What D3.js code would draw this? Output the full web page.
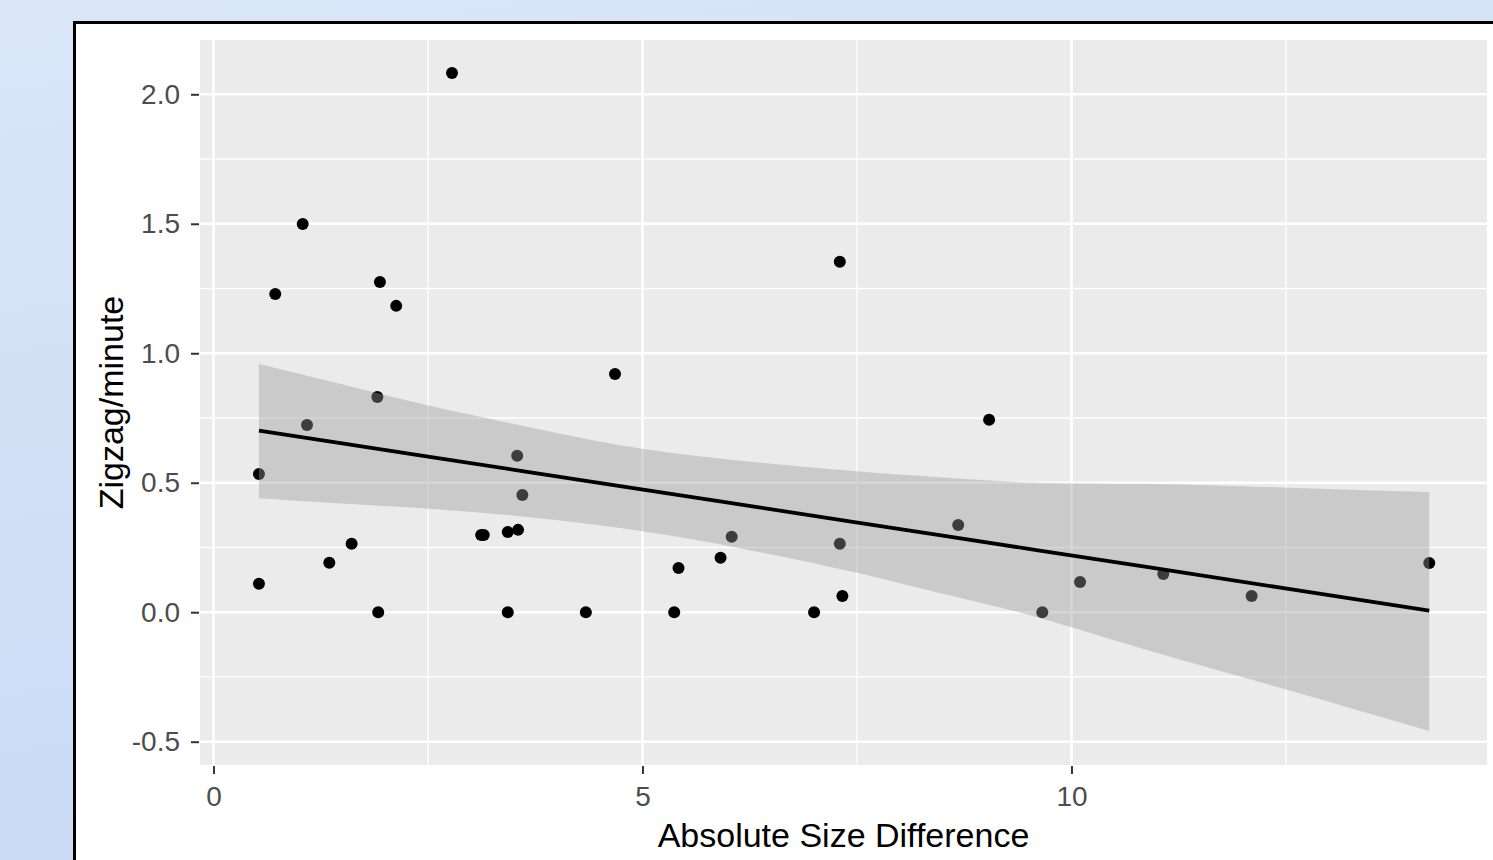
<!DOCTYPE html>
<html>
<head>
<meta charset="utf-8">
<script src="https://d3js.org/d3.v7.min.js"></script>
<style>
    body { margin: 0; padding: 0; overflow: hidden; }
    svg { display: block; }
</style>
</head>
<body>
<div id="svg-container"></div>
<script>
var w = 1493;
var h = 860;

// points
var sizeDiff = [2.78, 1.04, 0.72, 1.94, 2.13, 7.30, 4.68, 9.04, 1.91, 1.09,
    0.53, 3.54, 3.60, 8.68, 3.12, 3.15, 3.43, 3.55, 1.61, 1.35,
    0.53, 1.92, 3.43, 4.34, 6.04, 5.42, 5.91, 5.37, 7.00, 7.33,
    7.30, 10.10, 9.66, 12.10, 14.17, 11.07];
var zigzag = [2.082, 1.499, 1.229, 1.275, 1.183, 1.353, 0.920, 0.743, 0.831, 0.723,
    0.534, 0.604, 0.453, 0.337, 0.298, 0.298, 0.310, 0.318, 0.264, 0.191,
    0.110, 0.0, 0.0, 0.0, 0.291, 0.171, 0.210, 0.0, 0.0, 0.063,
    0.264, 0.117, 0.0, 0.063, 0.190, 0.148];

// lm smooth + confidence band, read at a few x positions
var smoothX = [0.53, 1.5, 2.52, 3.6, 4.74, 6.0, 7.45, 8.5, 9.63, 10.95, 12.51, 14.17];
var smoothFit = [0.701, 0.652, 0.600, 0.545, 0.487, 0.423, 0.349, 0.296, 0.238, 0.171, 0.091, 0.006];
var smoothLower = [0.440, 0.420, 0.400, 0.370, 0.325, 0.256, 0.156, 0.071, -0.022, -0.153, -0.299, -0.459];
var smoothUpper = [0.959, 0.880, 0.797, 0.720, 0.645, 0.590, 0.545, 0.520, 0.500, 0.495, 0.481, 0.464];

var xTicks = [0, 5, 10];
var xMinor = [2.5, 7.5, 12.5];
var yTicks = [-0.5, 0, 0.5, 1, 1.5, 2];
var yTickLabels = ["-0.5", "0.0", "0.5", "1.0", "1.5", "2.0"];
var yMinor = [-0.25, 0.25, 0.75, 1.25, 1.75];

var xTitle = "Absolute Size Difference";
var yTitle = "Zigzag/minute";

var panel = { left: 200, right: 1487, top: 40, bottom: 765 };

var svg = d3.select("#svg-container")
    .append("svg")
    .attr("width", w)
    .attr("height", h);

// slide background
var defs = svg.append("defs");
var grad = defs.append("linearGradient")
    .attr("id", "bg")
    .attr("x1", 0).attr("y1", 0)
    .attr("x2", 0.3).attr("y2", 1);
grad.append("stop").attr("offset", "0%").attr("stop-color", "#dae6f8");
grad.append("stop").attr("offset", "100%").attr("stop-color", "#c9daf4");

svg.append("rect")
    .attr("width", w)
    .attr("height", h)
    .attr("fill", "url(#bg)");

// white picture frame
svg.append("rect")
    .attr("x", 74.5)
    .attr("y", 22.5)
    .attr("width", w + 20)
    .attr("height", h + 20)
    .attr("fill", "#ffffff")
    .attr("stroke", "#000000")
    .attr("stroke-width", 3);

var xScale = d3.scaleLinear()
    .domain([-0.157, 14.843])
    .range([panel.left, panel.right]);

var yScale = d3.scaleLinear()
    .domain([-0.590, 2.2097])
    .range([panel.bottom, panel.top]);

// grey panel
svg.append("rect")
    .attr("x", panel.left)
    .attr("y", panel.top)
    .attr("width", panel.right - panel.left)
    .attr("height", panel.bottom - panel.top)
    .attr("fill", "#ebebeb");

var grid = svg.append("g").attr("class", "grid");

grid.selectAll(".ymin")
    .data(yMinor)
    .enter().append("line")
    .attr("x1", panel.left).attr("x2", panel.right)
    .attr("y1", function(d) { return yScale(d); })
    .attr("y2", function(d) { return yScale(d); })
    .attr("stroke", "#ffffff")
    .attr("stroke-width", 1.3);

grid.selectAll(".xmin")
    .data(xMinor)
    .enter().append("line")
    .attr("y1", panel.top).attr("y2", panel.bottom)
    .attr("x1", function(d) { return xScale(d); })
    .attr("x2", function(d) { return xScale(d); })
    .attr("stroke", "#ffffff")
    .attr("stroke-width", 1.3);

grid.selectAll(".ymaj")
    .data(yTicks)
    .enter().append("line")
    .attr("x1", panel.left).attr("x2", panel.right)
    .attr("y1", function(d) { return yScale(d); })
    .attr("y2", function(d) { return yScale(d); })
    .attr("stroke", "#ffffff")
    .attr("stroke-width", 2.6);

grid.selectAll(".xmaj")
    .data(xTicks)
    .enter().append("line")
    .attr("y1", panel.top).attr("y2", panel.bottom)
    .attr("x1", function(d) { return xScale(d); })
    .attr("x2", function(d) { return xScale(d); })
    .attr("stroke", "#ffffff")
    .attr("stroke-width", 2.6);

// points first, the band goes over them like ggplot does
svg.append("g")
    .attr("class", "points")
    .selectAll("circle")
    .data(sizeDiff)
    .enter().append("circle")
    .attr("cx", function(d) { return xScale(d); })
    .attr("cy", function(d, i) { return yScale(zigzag[i]); })
    .attr("r", 6)
    .attr("fill", "#000000");

var band = smoothX.map(function(d, i) {
    return { x: d, lo: smoothLower[i], hi: smoothUpper[i], fit: smoothFit[i] };
});

var area = d3.area()
    .x(function(d) { return xScale(d.x); })
    .y0(function(d) { return yScale(d.lo); })
    .y1(function(d) { return yScale(d.hi); })
    .curve(d3.curveNatural);

svg.append("path")
    .datum(band)
    .attr("d", area)
    .attr("fill", "#999999")
    .attr("fill-opacity", 0.4);

var line = d3.line()
    .x(function(d) { return xScale(d.x); })
    .y(function(d) { return yScale(d.fit); });

svg.append("path")
    .datum(band)
    .attr("d", line)
    .attr("fill", "none")
    .attr("stroke", "#000000")
    .attr("stroke-width", 3.8);

// axes
var xAxisGen = d3.axisBottom(xScale)
    .tickValues(xTicks)
    .tickFormat(d3.format("d"))
    .tickSize(8)
    .tickPadding(12);

var yAxisGen = d3.axisLeft(yScale)
    .tickValues(yTicks)
    .tickFormat(function(d, i) { return yTickLabels[i]; })
    .tickSize(8)
    .tickPadding(11);

var xAxis = svg.append("g")
    .attr("class", "x-axis")
    .attr("transform", "translate(0," + (panel.bottom + 1) + ")")
    .call(xAxisGen);

var yAxis = svg.append("g")
    .attr("class", "y-axis")
    .attr("transform", "translate(" + (panel.left - 1) + ",0)")
    .call(yAxisGen);

[xAxis, yAxis].forEach(function(ax) {
    ax.select(".domain").remove();
    ax.selectAll(".tick line")
        .attr("stroke", "#333333")
        .attr("stroke-width", 2);
    ax.selectAll(".tick text")
        .attr("fill", "#4d4d4d")
        .style("font-family", "'Liberation Sans', Arial, sans-serif")
        .style("font-size", "28px");
});

svg.append("text")
    .attr("x", (panel.left + panel.right) / 2)
    .attr("y", 847)
    .attr("text-anchor", "middle")
    .style("font-family", "'Liberation Sans', Arial, sans-serif")
    .style("font-size", "34px")
    .attr("fill", "#000000")
    .text(xTitle);

svg.append("text")
    .attr("transform", "translate(123," + ((panel.top + panel.bottom) / 2) + ") rotate(-90)")
    .attr("text-anchor", "middle")
    .style("font-family", "'Liberation Sans', Arial, sans-serif")
    .style("font-size", "34px")
    .attr("fill", "#000000")
    .text(yTitle);
</script>
</body>
</html>
